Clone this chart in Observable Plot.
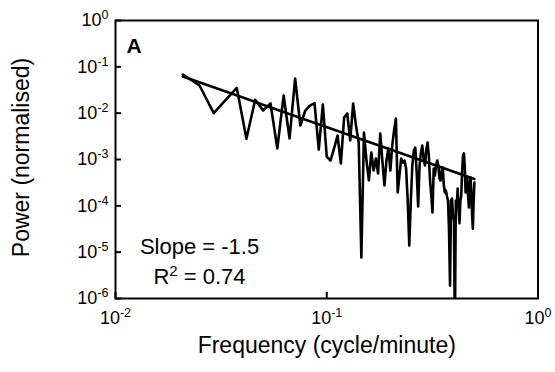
<!DOCTYPE html>
<html><head><meta charset="utf-8">
<script src="https://cdn.jsdelivr.net/npm/d3@7"></script>
<script src="https://cdn.jsdelivr.net/npm/@observablehq/plot@0.6"></script>
<style>
body{margin:0;background:#fff}
#chart svg{font-family:"Liberation Sans",Arial,sans-serif;overflow:visible}
</style>
</head><body><div id="chart"></div>
<script>
// Record length 240 minutes -> harmonic k has frequency k/240 cycle/minute
const recordMinutes = 240;
const harmonics = [5,6,7,8,9,10,11,12,13,14,15,16,17,18,19,20,21,22,23,24,25,26,27,28,29,30,
31,32,33,34,35,36,37,38,39,40,41,42,43,44,45,46,47,48,49,50,51,52,53,54,55,56,57,58,59,60,
61,62,63,64,65,66,67,68,69,70,71,72,73,74,75,76,77,78,79,80,81,82,83,84,85,86,87,88,89,90,
91,92,93,94,95,96,97,98,99,100,101,102,103,104,105,106,107,108,109,110,111,112,113,114,115,116,117,118,119,120];
const power = [0.0683,0.0395,0.00998,0.0197,0.0352,0.0028,0.0194,0.0114,0.0162,0.00173,
0.024,0.00284,0.056,0.00542,0.0114,0.0146,0.0164,0.00164,0.0154,0.00116,
0.00095,0.00173,0.0033,0.00082,0.00806,0.00984,0.00257,0.0162,0.00542,0.00233,
7.7e-6,0.00383,0.00095,0.000352,0.00142,0.000578,0.00105,0.000499,0.00364,0.00095,
0.000275,0.00095,0.00173,0.000578,0.002,0.00422,0.00767,0.000194,0.000451,0.00105,
0.00086,0.00095,0.00064,0.00013,1.39e-5,0.00013,0.00074,0.00156,0.00181,0.000499,
9.7e-5,0.00074,0.00142,0.002,0.00105,0.00074,0.00156,0.00233,0.00122,0.000352,
0.000167,7.2e-5,0.00064,0.000451,0.00074,0.00095,0.00074,0.00039,0.000352,0.000578,
0.00067,0.000275,0.000194,0.000214,0.000159,0.00013,2.9e-5,1.9e-6,0.00013,0.000144,
6.2e-5,4.8e-5,2e-7,0.00013,0.000102,0.000237,7.9e-5,4.2e-5,0.00013,0.000167,
0.000578,0.00122,0.00135,0.00074,0.000194,0.000275,0.00041,0.000167,9.2e-5,0.000275,
0.00041,0.000214,6.2e-5,3.2e-5,0.00013,0.000318];
const fitFreq = [5/240, 0.5];
const fitPower = [0.0618, 0.00038];
const xTicks = [0.01, 0.1, 1];
const yTicks = [1e-6, 1e-5, 1e-4, 1e-3, 1e-2, 1e-1, 1];
const panelLabel = "A";
const statsText = "Slope = -1.5\nR² = 0.74";
const xTitle = "Frequency (cycle/minute)";
const yTitle = "Power (normalised)";

const spectrum = harmonics.map((k, i) => ({f: k / recordMinutes, p: power[i]}));
const fit = fitFreq.map((f, i) => ({f, p: fitPower[i]}));
const expFmt = d => "10^" + Math.round(Math.log10(d));

const chart = Plot.plot({
  width: 555, height: 372,
  marginLeft: 115, marginRight: 17.5, marginTop: 20, marginBottom: 74,
  style: {fontFamily: '"Liberation Sans", Arial, sans-serif', fontSize: "18px", color: "#000", background: "#fff"},
  x: {type: "log", domain: [0.01, 1]},
  y: {type: "log", domain: [1e-6, 1]},
  marks: [
    Plot.line(spectrum, {x: "f", y: "p", stroke: "#000", strokeWidth: 2.6, clip: true}),
    Plot.line(fit, {x: "f", y: "p", stroke: "#000", strokeWidth: 2.6}),
    Plot.frame({stroke: "#000", strokeWidth: 2}),
    Plot.axisY({ticks: yTicks, tickFormat: expFmt, tickSize: -6, tickPadding: 13, strokeWidth: 2, label: null, fontSize: 18}),
    Plot.axisX({ticks: xTicks, tickFormat: expFmt, tickSize: -6, tickPadding: 19, strokeWidth: 2, label: null, fontSize: 18}),
    Plot.text([panelLabel], {frameAnchor: "top-left", text: d => d, dx: 11, dy: 18, lineAnchor: "top", textAnchor: "start", fontWeight: "bold", fontSize: 21}),
    Plot.text([statsText], {frameAnchor: "bottom-left", text: d => d, dx: 84, dy: -65.5, lineAnchor: "top", textAnchor: "middle", lineHeight: 1.36, fontSize: 22}),
    Plot.text([xTitle], {frameAnchor: "bottom", text: d => d, dy: 54, fontSize: 23}),
    Plot.text([yTitle], {frameAnchor: "left", text: d => d, rotate: -90, textAnchor: "middle", dx: -94, dy: -2, fontSize: 23})
  ]
});

chart.querySelectorAll('g[aria-label="x-axis tick label"] text, g[aria-label="y-axis tick label"] text').forEach(t => {
  const s = t.textContent;
  if (!s.includes("^")) return;
  const [b, e] = s.split("^");
  t.textContent = b;
  const ts = document.createElementNS("http://www.w3.org/2000/svg", "tspan");
  ts.setAttribute("dy", "-7");
  ts.setAttribute("font-size", "12.5");
  ts.textContent = e;
  t.appendChild(ts);
});
// superscript "2" in R²
chart.querySelectorAll("text tspan, text").forEach(t => {
  if (t.childNodes.length === 1 && t.firstChild.nodeType === 3 && t.textContent.startsWith("R²")) {
    const rest = t.textContent.slice(2);
    t.textContent = "R";
    const s2 = document.createElementNS("http://www.w3.org/2000/svg", "tspan");
    s2.setAttribute("dy", "-8"); s2.setAttribute("font-size", "15"); s2.textContent = "2";
    const r = document.createElementNS("http://www.w3.org/2000/svg", "tspan");
    r.setAttribute("dy", "8"); r.textContent = rest;
    t.appendChild(s2); t.appendChild(r);
  }
});
document.getElementById("chart").appendChild(chart);
</script>
</body></html>
